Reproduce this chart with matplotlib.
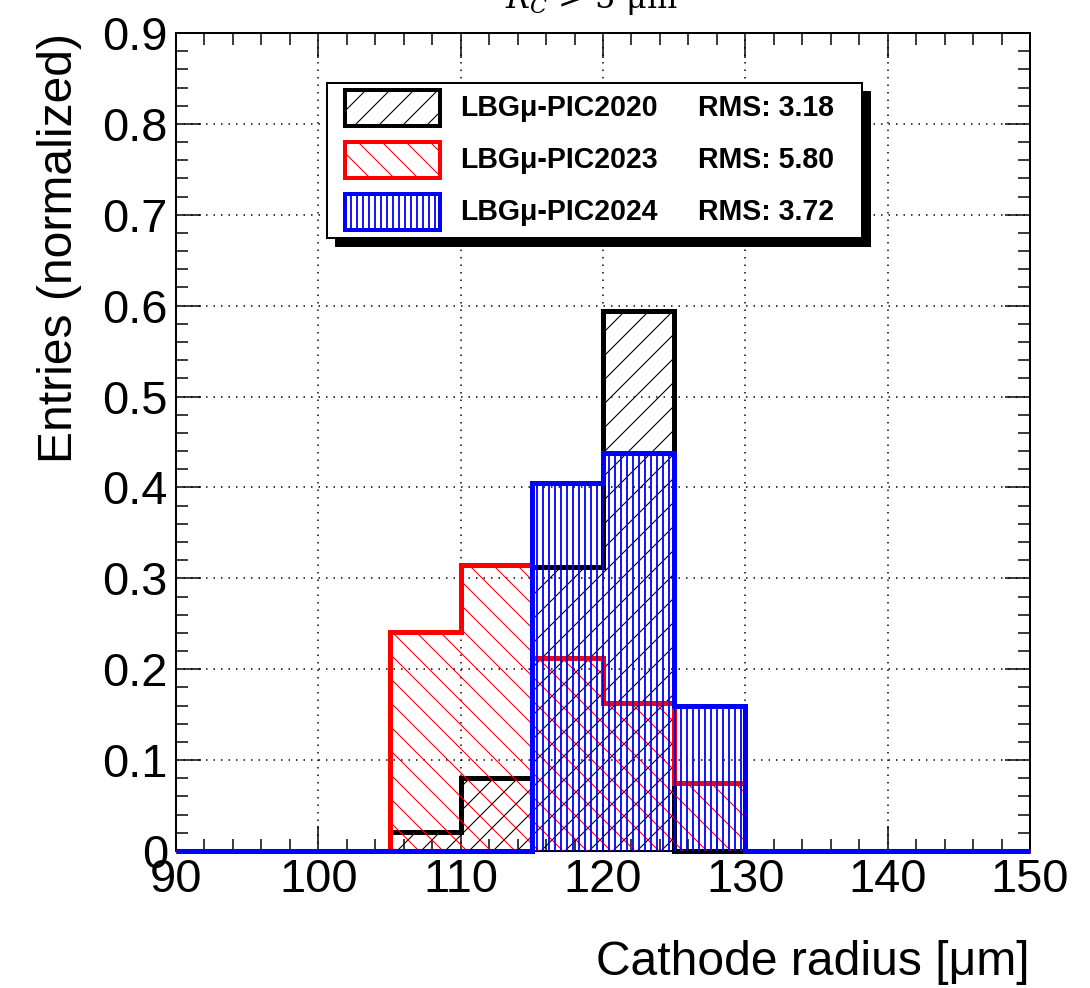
import numpy as np
import matplotlib
matplotlib.use("Agg")
import matplotlib.pyplot as plt
from matplotlib.patches import Rectangle
from matplotlib.ticker import MultipleLocator, FixedLocator

# ---- data -------------------------------------------------------------
bin_edges = [90, 95, 100, 105, 110, 115, 120, 125, 130, 135, 140, 145, 150]
pic2020 = [0, 0, 0, 0.021, 0.080, 0.313, 0.594, 0, 0, 0, 0, 0]
pic2023 = [0, 0, 0, 0.241, 0.315, 0.212, 0.163, 0.075, 0, 0, 0, 0]
pic2024 = [0, 0, 0, 0, 0, 0.405, 0.438, 0.159, 0, 0, 0, 0]

series_labels = ["LBGμ-PIC2020", "LBGμ-PIC2023", "LBGμ-PIC2024"]
rms_values = [3.18, 5.80, 3.72]
series_colors = ["black", "#ff0000", "#0000ff"]
series_hatches = ["/", "\\", "||"]
hatch_widths = [1.1, 1.1, 1.8]

y_ticks = [0, 0.1, 0.2, 0.3, 0.4, 0.5, 0.6, 0.7, 0.8, 0.9]
y_tick_labels = ["0", "0.1", "0.2", "0.3", "0.4", "0.5", "0.6", "0.7", "0.8", "0.9"]
x_ticks = [90, 100, 110, 120, 130, 140, 150]

# ---- figure -------------------------------------------------------------
W, H, DPI = 1090, 988, 72
plt.rcParams["font.family"] = ["Liberation Sans", "DejaVu Sans"]
fig = plt.figure(figsize=(W / DPI, H / DPI), dpi=DPI)


def fx(px):
    return px / W


def fy(py):
    return 1 - py / H


def hatched(artist, width):
    if hasattr(artist, "set_hatch_linewidth"):
        artist.set_hatch_linewidth(width)
    return artist


ax = fig.add_axes([fx(176), fy(851), fx(1030) - fx(176), fy(33) - fy(851)])
ax.set_xlim(90, 150)
ax.set_ylim(0, 0.9)

ax.grid(True, which="major", linestyle=(0, (1, 4)), color="black", linewidth=1.5, zorder=0)
ax.set_axisbelow(True)

all_series = [pic2020, pic2023, pic2024]
for i, (vals, col, hat, hw) in enumerate(zip(all_series, series_colors,
                                              series_hatches, hatch_widths)):
    with plt.rc_context({"hatch.linewidth": hw}):
        hatched(ax.stairs(vals, bin_edges, fill=True, facecolor="none", edgecolor=col,
                          hatch=hat, linewidth=0, zorder=2 + 2 * i), hw)
    ax.stairs(vals, bin_edges, baseline=0, color=col, linewidth=5,
              zorder=3 + 2 * i, clip_on=False)

# ---- axes styling -------------------------------------------------------
for s in ax.spines.values():
    s.set_linewidth(2)
ax.xaxis.set_major_locator(FixedLocator(x_ticks))
ax.xaxis.set_minor_locator(MultipleLocator(2))
ax.yaxis.set_major_locator(FixedLocator(y_ticks))
ax.yaxis.set_minor_locator(MultipleLocator(0.02))
ax.set_yticklabels(y_tick_labels)
ax.tick_params(which="both", direction="in", top=True, right=True, width=1.5,
               labelsize=47)
ax.tick_params(which="major", length=25)
ax.tick_params(which="minor", length=12)
ax.tick_params(axis="x", pad=7)
ax.tick_params(axis="y", pad=8)

ax.set_xlabel("Cathode radius [μm]", fontsize=48, loc="right", labelpad=38)
ax.set_ylabel("Entries (normalized)", fontsize=48, loc="top", labelpad=20)

# ---- legend box ---------------------------------------------------------
lx0, lx1, ly0, ly1 = 327, 862, 83, 238
shadow = 8
fig.patches.append(Rectangle((fx(lx0 + shadow), fy(ly1 + shadow)),
                             fx(lx1) - fx(lx0), fy(ly0) - fy(ly1),
                             transform=fig.transFigure, facecolor="black",
                             edgecolor="black", zorder=10))
fig.patches.append(Rectangle((fx(lx0), fy(ly1)), fx(lx1) - fx(lx0), fy(ly0) - fy(ly1),
                             transform=fig.transFigure, facecolor="white",
                             edgecolor="black", linewidth=2, zorder=11))
row_centers = [108, 160, 212]
for yc, lab, rms, col, hat, hw in zip(row_centers, series_labels, rms_values,
                                      series_colors, series_hatches, hatch_widths):
    with plt.rc_context({"hatch.linewidth": hw}):
        sw = Rectangle((fx(345), fy(yc + 18)), fx(440) - fx(345),
                       fy(yc - 18) - fy(yc + 18),
                       transform=fig.transFigure, facecolor="white",
                       edgecolor=col, hatch=hat, linewidth=4, zorder=12)
    fig.patches.append(hatched(sw, hw))
    fig.text(fx(460), fy(yc), lab, fontsize=28.5, fontweight="bold",
             ha="left", va="center", zorder=13)
    fig.text(fx(698), fy(yc), f"RMS: {rms:.2f}", fontsize=28.5, fontweight="bold",
             ha="left", va="center", zorder=13)

# ---- title (runs off the top edge) --------------------------------------
fig.text(fx(505), fy(8), r"$R_C$ > 5 μm", fontsize=32, family="DejaVu Serif",
         ha="left", va="baseline", math_fontfamily="dejavuserif")

fig.savefig("out.png", dpi=DPI)
